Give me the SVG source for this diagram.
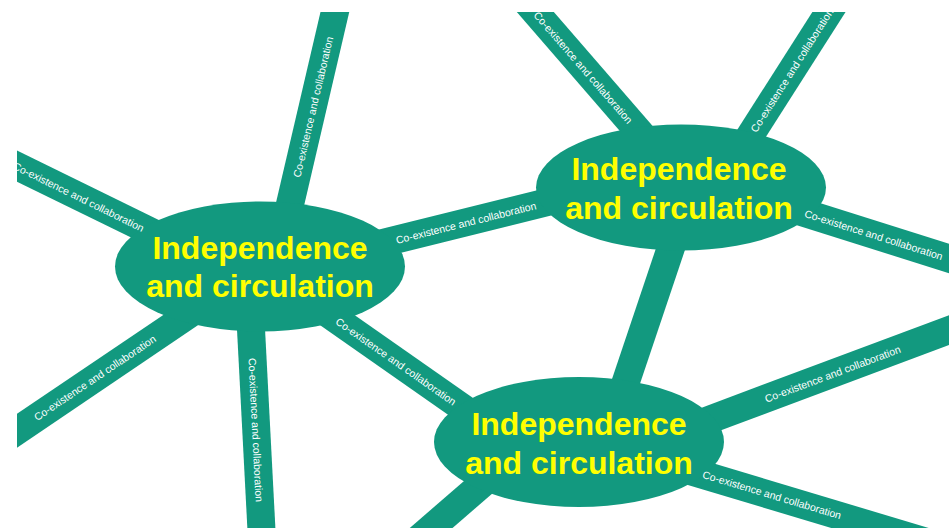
<svg xmlns="http://www.w3.org/2000/svg" width="949" height="528" viewBox="0 0 949 528">
  <style>
    .band { stroke: #12997f; stroke-width: 28; fill: none; stroke-linecap: butt; }
    .node { fill: #12997f; }
    .label { fill: #ffffff; font-family: "Liberation Sans", Arial, sans-serif; font-size: 10.5px; dominant-baseline: central; }
    .title { fill: #ffff00; font-family: "Liberation Sans", Arial, sans-serif; font-size: 32px; font-weight: bold; text-anchor: middle; }
  </style>
  <defs>
    <clipPath id="frame">
      <rect x="17" y="12" width="932" height="516"/>
    </clipPath>
  </defs>
  <rect x="0" y="0" width="949" height="528" fill="#ffffff"/>
  <g clip-path="url(#frame)">
    <!-- connecting bands -->
    <g id="connectors">
      <line class="band" x1="340" y1="-10" x2="284" y2="230"/>
      <line class="band" x1="-10" y1="153" x2="170" y2="241"/>
      <line class="band" x1="-10" y1="449" x2="200" y2="307"/>
      <line class="band" x1="250" y1="310" x2="262" y2="540"/>
      <line class="band" x1="300" y1="294" x2="500" y2="434"/>
      <line class="band" x1="330" y1="256" x2="600" y2="189"/>
      <line class="band" x1="518" y1="-8" x2="680" y2="179"/>
      <line class="band" x1="843" y1="-10" x2="725" y2="175"/>
      <line class="band" x1="700" y1="180" x2="960" y2="262"/>
      <line class="band" x1="687" y1="200" x2="613" y2="420"/>
      <line class="band" x1="690" y1="427" x2="960" y2="326"/>
      <line class="band" x1="640" y1="456" x2="960" y2="552"/>
      <line class="band" x1="520" y1="451" x2="400" y2="555"/>
    </g>
    <!-- nodes -->
    <g id="node-left">
      <ellipse class="node" cx="260" cy="266.5" rx="145" ry="65"/>
    </g>
    <g id="node-top">
      <ellipse class="node" cx="681" cy="187.5" rx="145" ry="63"/>
    </g>
    <g id="node-bottom">
      <ellipse class="node" cx="579" cy="442" rx="145" ry="65"/>
    </g>
    <!-- band labels -->
    <g id="connector-labels">
      <text class="label" transform="translate(296.4,177) rotate(-76.8)">Co-existence and collaboration</text>
      <text class="label" transform="translate(14,165) rotate(26.1)">Co-existence and collaboration</text>
      <text class="label" transform="translate(35,418) rotate(-34)">Co-existence and collaboration</text>
      <text class="label" transform="translate(252.4,358) rotate(87.1)">Co-existence and collaboration</text>
      <text class="label" transform="translate(337,320) rotate(35)">Co-existence and collaboration</text>
      <text class="label" transform="translate(396,240) rotate(-14)">Co-existence and collaboration</text>
      <text class="label" transform="translate(536,13) rotate(49)">Co-existence and collaboration</text>
      <text class="label" transform="translate(753,131) rotate(-57.5)">Co-existence and collaboration</text>
      <text class="label" transform="translate(805,213) rotate(17.5)">Co-existence and collaboration</text>
      <text class="label" transform="translate(765,399) rotate(-20.5)">Co-existence and collaboration</text>
      <text class="label" transform="translate(703,474) rotate(16.7)">Co-existence and collaboration</text>
    </g>
    <!-- node titles -->
    <g id="node-left-title">
      <text class="title" x="260" y="258.5">Independence</text>
      <text class="title" x="260" y="297.3">and circulation</text>
    </g>
    <g id="node-top-title">
      <text class="title" x="679" y="180">Independence</text>
      <text class="title" x="679" y="218.7">and circulation</text>
    </g>
    <g id="node-bottom-title">
      <text class="title" x="579" y="435.4">Independence</text>
      <text class="title" x="579" y="474">and circulation</text>
    </g>
  </g>
</svg>
